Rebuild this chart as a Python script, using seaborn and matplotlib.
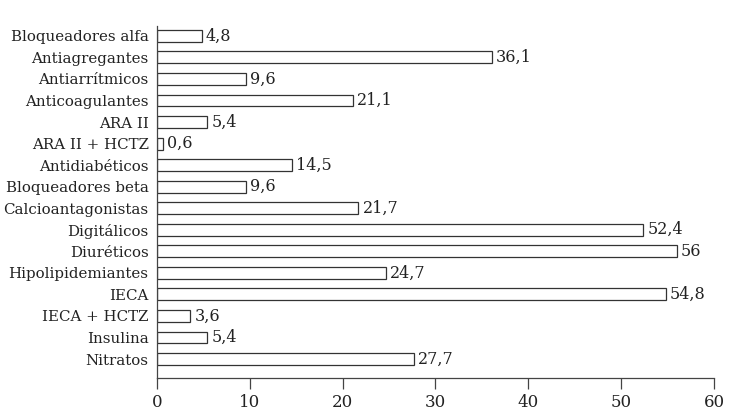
import matplotlib
matplotlib.use('Agg')
import matplotlib.pyplot as plt
import numpy as np
import pandas as pd
import seaborn as sns

drugs = ['Bloqueadores alfa', 'Antiagregantes', 'Antiarrítmicos', 'Anticoagulantes',
         'ARA II', 'ARA II + HCTZ', 'Antidiabéticos', 'Bloqueadores beta',
         'Calcioantagonistas', 'Digitálicos', 'Diuréticos', 'Hipolipidemiantes',
         'IECA', 'IECA + HCTZ', 'Insulina', 'Nitratos']
percent = [4.8, 36.1, 9.6, 21.1, 5.4, 0.6, 14.5, 9.6, 21.7, 52.4, 56, 24.7, 54.8, 3.6, 5.4, 27.7]
value_labels = ['4,8', '36,1', '9,6', '21,1', '5,4', '0,6', '14,5', '9,6', '21,7', '52,4',
                '56', '24,7', '54,8', '3,6', '5,4', '27,7']

df = pd.DataFrame({'drug': drugs, 'pct': percent})

sns.set_style('white')
plt.rcParams['font.family'] = ['DejaVu Serif']

fig = plt.figure(figsize=(7.3, 4.12), dpi=100)
ax = fig.add_axes([0.215, 0.0825, 0.763, 0.855])

sns.barplot(data=df, x='pct', y='drug', orient='h', color='white', edgecolor='#333333',
            linewidth=0.9, width=0.55, ax=ax)

ax.bar_label(ax.containers[0], labels=value_labels, padding=3, fontsize=11.5, color='#222222')

ax.set_xlim(0, 60)
ax.set_ylim(15.88, -0.47)
ax.set_xticks(np.arange(0, 61, 10))
ax.set_xlabel('')
ax.set_ylabel('')
for s in ['top', 'right']:
    ax.spines[s].set_visible(False)
for s in ['left', 'bottom']:
    ax.spines[s].set_color('#444444')
    ax.spines[s].set_linewidth(0.9)
ax.tick_params(axis='x', direction='out', length=8, width=0.9, color='#444444',
               labelsize=12, labelcolor='#222222', bottom=True)
ax.tick_params(axis='y', length=0, labelsize=10.8, labelcolor='#222222', pad=6)

fig.savefig('out.png', dpi=100)
